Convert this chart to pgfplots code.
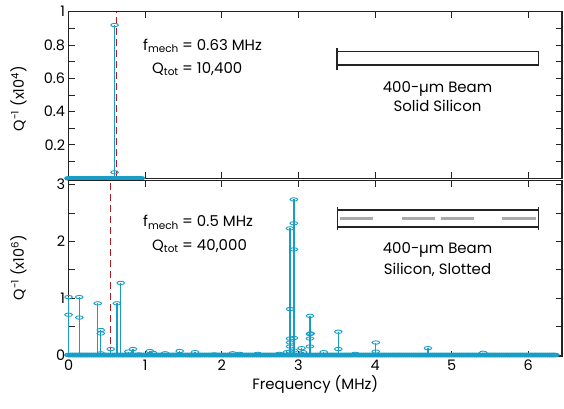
\documentclass[border=0pt]{standalone}
\usepackage{fontspec}
\setmainfont{Poppins}
\usepackage{pgfplots}
\pgfplotsset{compat=1.18}

\definecolor{stem}{RGB}{24,158,196}
\definecolor{fline}{RGB}{170,30,35}
\definecolor{frame}{RGB}{35,35,35}
\definecolor{slot}{RGB}{170,170,170}

% open horizontal ellipse used as the marker of the stem plots
\pgfdeclareplotmark{ell}{%
  \pgfpathellipse{\pgfpointorigin}{\pgfpoint{3.8bp}{0pt}}{\pgfpoint{0pt}{1.7bp}}%
  \pgfusepathqstroke}

\pgfplotsset{
  panel/.style={
    scale only axis, width=493.4bp,
    xmin=0, xmax=6.44,
    clip=false,
    tick align=inside, tick pos=both,
    major tick length=6bp, minor tick length=6bp,
    axis line style={line width=1.1bp, frame},
    every tick/.style={line width=1bp, frame},
    tick label style={font=\fontsize{14.5}{16}\selectfont},
    /pgf/number format/assume math mode=true,
  },
  stems/.style={stem, line width=1.3bp, ycomb, mark=ell,
    mark options={line width=0.9bp, solid}},
  base/.style={stem, only marks, mark=ell, mark options={line width=1.3bp}},
}

\begin{document}
\begin{tikzpicture}[x=1bp, y=1bp]
\useasboundingbox (0,0) rectangle (564,-408);

% ---------- upper panel: solid beam ----------
\begin{axis}[panel,
  at={(68.6bp,-178.3bp)}, anchor=south west,
  height=166.6bp, ymin=0, ymax=1,
  xtick={1,2,3,4,5,6}, xticklabels={},
  ytick={0.2,0.4,0.6,0.8,1}, yticklabels={0.2,0.4,0.6,0.8,1},
  minor ytick={0.1,0.3,0.5,0.7,0.9},
]
\addplot[fline, line width=1.2bp, dash pattern=on 7bp off 4bp] coordinates {(0.62,0) (0.62,1)};
\addplot[base] coordinates {
 (0,0)(0.02,0)(0.04,0)(0.06,0)(0.08,0)(0.10,0)(0.12,0)(0.14,0)(0.16,0)(0.18,0)
 (0.20,0)(0.22,0)(0.24,0)(0.26,0)(0.28,0)(0.30,0)(0.32,0)(0.34,0)(0.36,0)(0.38,0)
 (0.40,0)(0.42,0)(0.44,0)(0.46,0)(0.48,0)(0.50,0)(0.52,0)(0.54,0)(0.56,0)(0.58,0)
 (0.62,0)(0.64,0)(0.66,0)(0.68,0)(0.70,0)(0.72,0)(0.74,0)(0.76,0)(0.78,0)(0.80,0)
 (0.82,0)(0.84,0)(0.86,0)(0.88,0)(0.90,0)(0.92,0)(0.94,0)};
\addplot[stems] coordinates {(0.60,0.92) (0.60,0.036)};
\end{axis}

% ---------- lower panel: slotted beam ----------
\begin{axis}[panel,
  at={(68.6bp,-356.7bp)}, anchor=south west,
  height=176bp, ymin=-0.03, ymax=3.07,
  xtick={0,1,2,3,4,5,6},
  ytick={0,1,2,3}, minor ytick={0.5,1.5,2.5},
  xlabel={Frequency (MHz)},
  xlabel style={font=\fontsize{15}{17}\selectfont, yshift=2bp},
]
\addplot[fline, line width=1.2bp, dash pattern=on 7bp off 4bp] coordinates {(0.55,0) (0.55,3.07)};
% dense set of weak modes sitting on the baseline
\addplot[base] coordinates {
 (0,0)(0.05,0)(0.10,0)(0.15,0)(0.20,0)(0.25,0)(0.30,0)(0.35,0)(0.40,0)(0.45,0)
 (0.50,0)(0.55,0)(0.60,0)(0.65,0)(0.70,0)(0.75,0)(0.80,0)(0.85,0)(0.90,0)(0.95,0)
 (1.00,0)(1.05,0)(1.10,0)(1.15,0)(1.20,0)(1.25,0)(1.30,0)(1.35,0)(1.40,0)(1.45,0)
 (1.50,0)(1.55,0)(1.60,0)(1.65,0)(1.70,0)(1.75,0)(1.80,0)(1.85,0)(1.90,0)(1.95,0)
 (2.00,0)(2.05,0)(2.10,0)(2.15,0)(2.20,0)(2.25,0)(2.30,0)(2.35,0)(2.40,0)(2.45,0)
 (2.50,0)(2.55,0)(2.60,0)(2.65,0)(2.70,0)(2.75,0)(2.80,0)(2.85,0)(2.90,0)(2.95,0)
 (3.00,0)(3.05,0)(3.10,0)(3.15,0)(3.20,0)(3.25,0)(3.30,0)(3.35,0)(3.40,0)(3.45,0)
 (3.50,0)(3.55,0)(3.60,0)(3.65,0)(3.70,0)(3.75,0)(3.80,0)(3.85,0)(3.90,0)(3.95,0)
 (4.00,0)(4.05,0)(4.10,0)(4.15,0)(4.20,0)(4.25,0)(4.30,0)(4.35,0)(4.40,0)(4.45,0)
 (4.50,0)(4.55,0)(4.60,0)(4.65,0)(4.70,0)(4.75,0)(4.80,0)(4.85,0)(4.90,0)(4.95,0)
 (5.00,0)(5.05,0)(5.10,0)(5.15,0)(5.20,0)(5.25,0)(5.30,0)(5.35,0)(5.40,0)(5.45,0)
 (5.50,0)(5.55,0)(5.60,0)(5.65,0)(5.70,0)(5.75,0)(5.80,0)(5.85,0)(5.90,0)(5.95,0)
 (6.00,0)(6.05,0)(6.10,0)(6.15,0)(6.20,0)(6.25,0)(6.30,0)(6.35,0)};
\addplot[base] coordinates {
 (0.025,0)(0.075,0)(0.125,0)(0.175,0)(0.225,0)(0.275,0)(0.325,0)(0.375,0)(0.425,0)(0.475,0)
 (0.525,0)(0.575,0)(0.625,0)(0.675,0)(0.725,0)(0.775,0)(0.825,0)(0.875,0)(0.925,0)(0.975,0)
 (1.025,0)(1.075,0)(1.125,0)(1.175,0)(1.225,0)(1.275,0)(1.325,0)(1.375,0)(1.425,0)(1.475,0)
 (1.525,0)(1.575,0)(1.625,0)(1.675,0)(1.725,0)(1.775,0)(1.825,0)(1.875,0)(1.925,0)(1.975,0)
 (2.025,0)(2.075,0)(2.125,0)(2.175,0)(2.225,0)(2.275,0)(2.325,0)(2.375,0)(2.425,0)(2.475,0)
 (2.525,0)(2.575,0)(2.625,0)(2.675,0)(2.725,0)(2.775,0)(2.825,0)(2.875,0)(2.925,0)(2.975,0)
 (3.025,0)(3.075,0)(3.125,0)(3.175,0)(3.225,0)(3.275,0)(3.325,0)(3.375,0)(3.425,0)(3.475,0)
 (3.525,0)(3.575,0)(3.625,0)(3.675,0)(3.725,0)(3.775,0)(3.825,0)(3.875,0)(3.925,0)(3.975,0)
 (4.025,0)(4.075,0)(4.125,0)(4.175,0)(4.225,0)(4.275,0)(4.325,0)(4.375,0)(4.425,0)(4.475,0)
 (4.525,0)(4.575,0)(4.625,0)(4.675,0)(4.725,0)(4.775,0)(4.825,0)(4.875,0)(4.925,0)(4.975,0)
 (5.025,0)(5.075,0)(5.125,0)(5.175,0)(5.225,0)(5.275,0)(5.325,0)(5.375,0)(5.425,0)(5.475,0)
 (5.525,0)(5.575,0)(5.625,0)(5.675,0)(5.725,0)(5.775,0)(5.825,0)(5.875,0)(5.925,0)(5.975,0)
 (6.025,0)(6.075,0)(6.125,0)(6.175,0)(6.225,0)(6.275,0)(6.325,0)};
\addplot[stems] table {
x y
0.00 1.02
0.00 0.71
0.14 1.02
0.14 0.66
0.38 0.91
0.42 0.44
0.42 0.38
0.42 0.03
0.55 0.105
0.63 0.91
0.68 1.27
0.78 0.06
0.84 0.105
0.92 0.01
1.06 0.07
1.10 0.04
1.26 0.03
1.45 0.07
1.65 0.05
1.90 0.01
2.14 0.03
2.23 0.02
2.47 0.02
2.75 0.02
2.85 0.05
2.89 2.23
2.89 0.81
2.89 0.29
2.89 0.22
2.89 0.15
2.89 0.06
2.94 2.74
2.94 2.32
2.94 1.86
2.94 0.30
2.94 0.08
3.04 0.12
3.06 0.05
3.15 0.69
3.15 0.37
3.15 0.29
3.15 0.15
3.16 0.38
3.33 0.05
3.52 0.41
3.52 0.105
3.74 0.02
4.01 0.22
4.01 0.06
4.69 0.12
5.41 0.04
6.33 0.00
};
\end{axis}

% ---------- axis titles ----------
\node[rotate=90, font=\fontsize{14.5}{16}\selectfont] at (18.5,-98.5)
  {Q\textsuperscript{-1} (x10\textsuperscript{4})};
\node[rotate=90, font=\fontsize{14.5}{16}\selectfont] at (18.5,-267.5)
  {Q\textsuperscript{-1} (x10\textsuperscript{6})};

% ---------- annotations ----------
\begin{scope}[font=\fontsize{15}{17}\selectfont]
\node[anchor=base east, inner sep=0] at (179,-50) {f\textsubscript{mech}};
\node[anchor=base west, inner sep=0] at (182,-50) {= 0.63 MHz};
\node[anchor=base east, inner sep=0] at (179,-73) {Q\textsubscript{tot}};
\node[anchor=base west, inner sep=0] at (182,-73) {= 10,400};
\node[anchor=base east, inner sep=0] at (179,-226.7) {f\textsubscript{mech}};
\node[anchor=base west, inner sep=0] at (182,-226.7) {= 0.5 MHz};
\node[anchor=base east, inner sep=0] at (179,-250) {Q\textsubscript{tot}};
\node[anchor=base west, inner sep=0] at (182,-250) {= 40,000};

\node[anchor=base, inner sep=0] at (437.5,-92.7) {400-µm Beam};
\node[anchor=base, inner sep=0] at (437.5,-111.7) {Solid Silicon};
\node[anchor=base, inner sep=0] at (437.5,-253.3) {400-µm Beam};
\node[anchor=base, inner sep=0] at (437.5,-274.3) {Silicon, Slotted};
\end{scope}

% ---------- beam sketches ----------
\draw[frame, line width=1.2bp] (337,-51.7) rectangle (538.3,-65);
\draw[frame, line width=1.2bp] (337,-48) -- (337,-70);
\draw[frame, line width=1.2bp] (337.3,-210) rectangle (538.3,-227);
\draw[frame, line width=1.2bp] (337.3,-207) -- (337.3,-230);
\draw[frame, line width=1.2bp] (538.3,-207) -- (538.3,-230);
\draw[slot, line width=2.6bp] (340,-218.5) -- (373,-218.5);
\draw[slot, line width=2.6bp] (402,-218.5) -- (435,-218.5);
\draw[slot, line width=2.6bp] (441,-218.5) -- (474,-218.5);
\draw[slot, line width=2.6bp] (502,-218.5) -- (536,-218.5);
\end{tikzpicture}
\end{document}
